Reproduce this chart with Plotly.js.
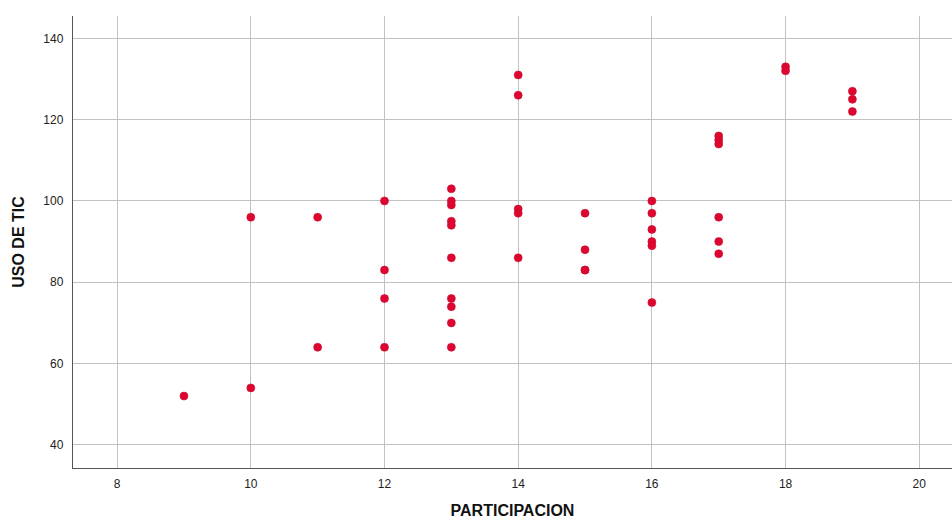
<!DOCTYPE html>
<html>
<head>
<meta charset="utf-8">
<script src="https://cdn.plot.ly/plotly-3.0.1.min.js"></script>
<style>html,body{margin:0;padding:0;background:#fff;}#chart{width:952px;height:519px;}</style>
</head>
<body>
<div id="chart"></div>
<script>
const participacion = [9, 10,10, 11,11, 12,12,12,12, 13,13,13,13,13,13,13,13,13,13, 14,14,14,14,14, 15,15,15,15, 16,16,16,16,16,16, 17,17,17,17,17,17, 18,18, 19,19,19];
const usoDeTic      = [52, 96,54, 96,64, 100,83,76,64, 103,100,99,95,94,86,76,74,70,64, 131,126,98,97,86, 97,88,83,83, 100,97,93,90,89,75, 116,115,114,96,90,87, 133,132, 127,125,122];
const xTicks = [8, 10, 12, 14, 16, 18, 20];
const yTicks = [40, 60, 80, 100, 120, 140];

const trace = {
  x: participacion,
  y: usoDeTic,
  type: 'scatter',
  mode: 'markers',
  marker: {color: '#de0530', size: 8, line: {color: '#c8102e', width: 0.6}},
  hoverinfo: 'x+y'
};

const layout = {
  width: 952, height: 519,
  margin: {l: 73, r: 0, t: 16, b: 51},
  paper_bgcolor: '#ffffff', plot_bgcolor: '#ffffff',
  showlegend: false,
  font: {family: 'Liberation Sans, Arial, sans-serif', color: '#222', size: 12},
  xaxis: {
    range: [7.34, 20.49],
    tickvals: xTicks, ticktext: xTicks.map(String),
    showgrid: true, gridcolor: '#c2c2c2', gridwidth: 1,
    zeroline: false, showline: true, linecolor: '#555', linewidth: 1.2,
    ticks: '', ticklabelstandoff: 4,
    tickfont: {size: 12, color: '#222'},
    title: {text: 'PARTICIPACION', font: {size: 16, color: '#111', weight: 'bold'}, standoff: 16}
  },
  yaxis: {
    range: [34.3, 145.5],
    tickvals: yTicks, ticktext: yTicks.map(String),
    showgrid: true, gridcolor: '#c2c2c2', gridwidth: 1,
    zeroline: false, showline: true, linecolor: '#555', linewidth: 1.2,
    ticks: '', ticklabelstandoff: 6,
    tickfont: {size: 12, color: '#222'},
    title: {text: 'USO DE TIC', font: {size: 16, color: '#111', weight: 'bold'}, standoff: 14}
  }
};

Plotly.newPlot('chart', [trace], layout, {displayModeBar: false, staticPlot: true});
</script>
</body>
</html>
